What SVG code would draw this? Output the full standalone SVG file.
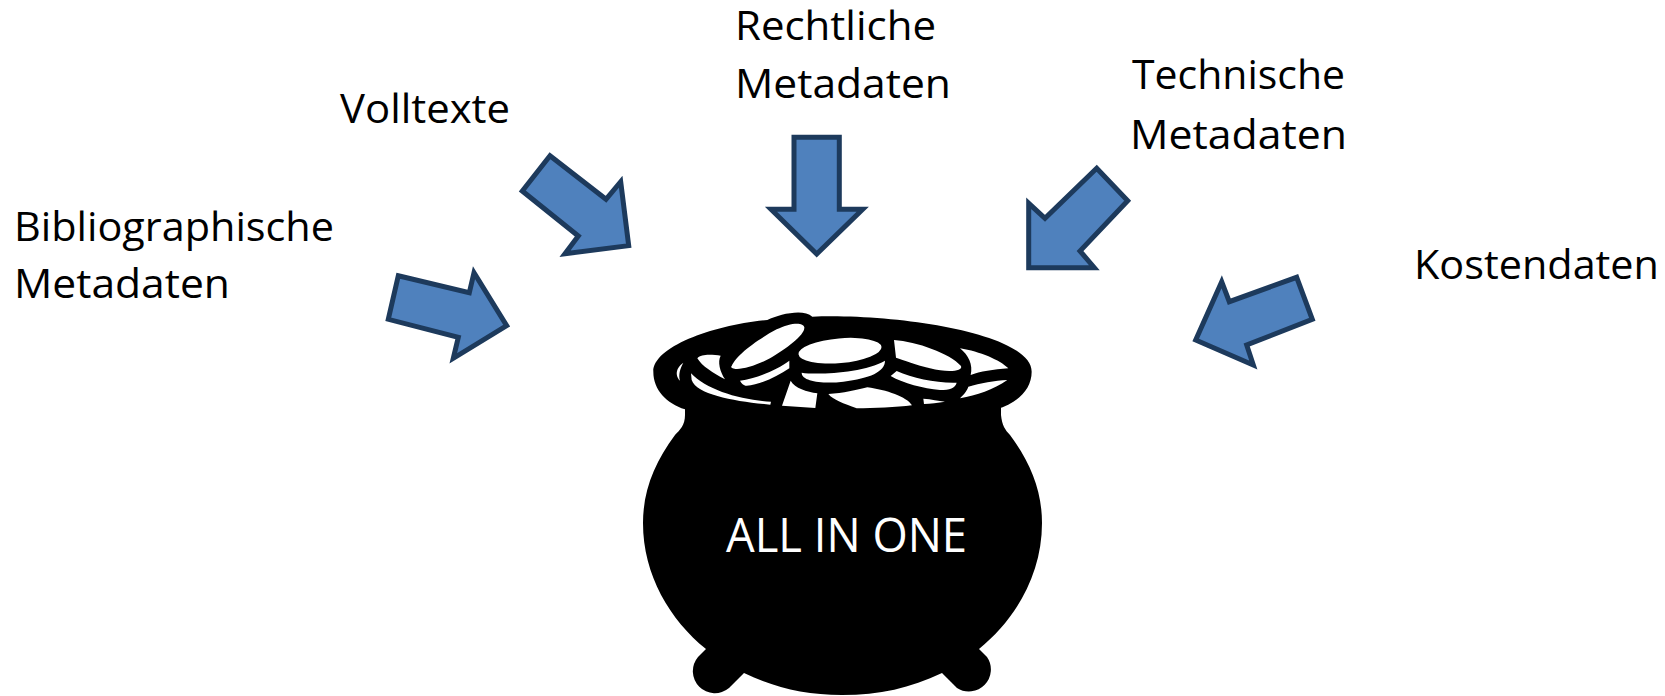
<svg xmlns="http://www.w3.org/2000/svg" width="1665" height="696" viewBox="0 0 1665 696">
<style>
text{font-family:"Open Sans","Lato","Liberation Sans",sans-serif;font-size:41px;fill:#000}
.arrow{fill:#4f81bd;stroke:#1d3a5c;stroke-width:5;stroke-linejoin:miter;stroke-miterlimit:10}
.hole{fill:#fff}
</style>
<rect width="1665" height="696" fill="#fff"/>
<g id="connectors">
<polygon class="arrow" points="398.3,275.7 469.3,292.7 474,272.7 506.7,325.7 453.3,358.3 458.3,337.3 388.3,319.3"/>
<polygon class="arrow" points="550,155.7 606,199.3 620.7,181.7 628.7,245.7 565,253.7 578.3,236 522.3,191"/>
<polygon class="arrow" points="794,137.3 839.3,137.3 839.3,209.3 862.7,209.3 816.7,254 771,209.3 794,209.3"/>
<polygon class="arrow" points="1096.7,168.3 1127.7,200.7 1080,251 1094.3,267.7 1028.7,267.7 1028.7,203.3 1045,218.3"/>
<polygon class="arrow" points="1296.7,277.3 1312.3,319.3 1246.7,345 1253.3,365 1195.7,340 1221.7,281.7 1229.3,301.7"/>
</g>
<g id="pot">
<path fill="#000" d="M685,405 L685,415 C685,425 680,430 675,435 C655,462 643,490 643,523 C643,575 670,620 706,649 L698,657 A22,22 0 0 0 729,688 L744,673 C775,688 805,695 842,695 C880,695 910,688 942,673 L957,688 A22,22 0 0 0 987,657 L979,649 C1015,620 1042,575 1042,523 C1042,490 1030,462 1010,435 C1005,430 1002,425 1001,415 L1001,405 Z"/>
<g transform="translate(630,290) scale(.33333)">
<path fill="#000" d="M70,245 C70,170 250,105 412,90 C450,72 520,55 547,80 C800,70 1205,130 1205,245 C1205,300 1160,340 1100,358 L165,358 C110,340 70,300 70,245Z"/>
<path class="hole" d="M303,235 C310,200 380,150 440,118 C480,98 520,95 523,112 C525,135 470,175 420,205 C370,232 300,250 303,225Z"/>
<ellipse class="hole" cx="630" cy="182" rx="125" ry="37" transform="rotate(-5 630 182)"/>
<path class="hole" d="M515,248 C560,255 700,250 765,212 C765,245 720,265 640,275 C580,282 515,275 515,248Z"/>
<path class="hole" d="M792,150 C860,155 960,190 993,228 C1000,245 950,248 900,235 C860,225 820,210 798,203Z"/>
<path class="hole" d="M782,258 L800,243 C850,265 920,280 980,278 C975,295 960,300 930,300 C880,295 820,280 782,258Z"/>
<path class="hole" d="M990,175 C1050,185 1110,210 1135,235 C1090,238 1050,245 1022,255 C1030,225 1015,195 990,175Z"/>
<path class="hole" d="M1132,270 C1090,300 1040,315 990,325 C1005,310 1012,300 1015,290 C1050,280 1095,272 1132,270Z"/>
<path class="hole" d="M330,272 C380,265 440,240 478,212 L478,235 C440,260 390,285 350,287 C340,287 335,280 330,272Z"/>
<path class="hole" d="M202,205 C215,190 250,195 272,197 C262,215 270,245 285,268 C250,250 215,228 202,205Z"/>
<path class="hole" d="M160,218 C145,228 130,250 150,272 C145,255 150,235 160,218Z"/>
<path class="hole" d="M183,250 C230,300 330,330 423,335 L421,344 C320,335 200,315 185,270Z"/>
<path class="hole" d="M482,272 C495,295 530,305 562,310 L556,354 L456,347Z"/>
<path class="hole" d="M595,312 C640,310 680,300 712,292 C770,300 830,320 846,346 C800,352 730,355 680,355 C640,340 610,330 595,312Z"/>
<path class="hole" d="M880,326 C905,328 925,332 945,335 C925,338 900,341 882,342Z"/>
</g>
<text x="726" y="552" style="fill:#fff;font-size:47px" textLength="241" lengthAdjust="spacingAndGlyphs">ALL IN ONE</text>
</g>
<g id="label-bibliographische"><text x="14" y="241" textLength="320" lengthAdjust="spacingAndGlyphs">Bibliographische</text><text x="14" y="298" textLength="216" lengthAdjust="spacingAndGlyphs">Metadaten</text></g>
<g id="label-volltexte"><text x="340" y="123" textLength="170" lengthAdjust="spacingAndGlyphs">Volltexte</text></g>
<g id="label-rechtliche"><text x="735" y="40" textLength="201" lengthAdjust="spacingAndGlyphs">Rechtliche</text><text x="735" y="98" textLength="216" lengthAdjust="spacingAndGlyphs">Metadaten</text></g>
<g id="label-technische"><text x="1132" y="89" textLength="213" lengthAdjust="spacingAndGlyphs">Technische</text><text x="1130" y="149" textLength="217" lengthAdjust="spacingAndGlyphs">Metadaten</text></g>
<g id="label-kostendaten"><text x="1414" y="279" textLength="245" lengthAdjust="spacingAndGlyphs">Kostendaten</text></g>
</svg>
